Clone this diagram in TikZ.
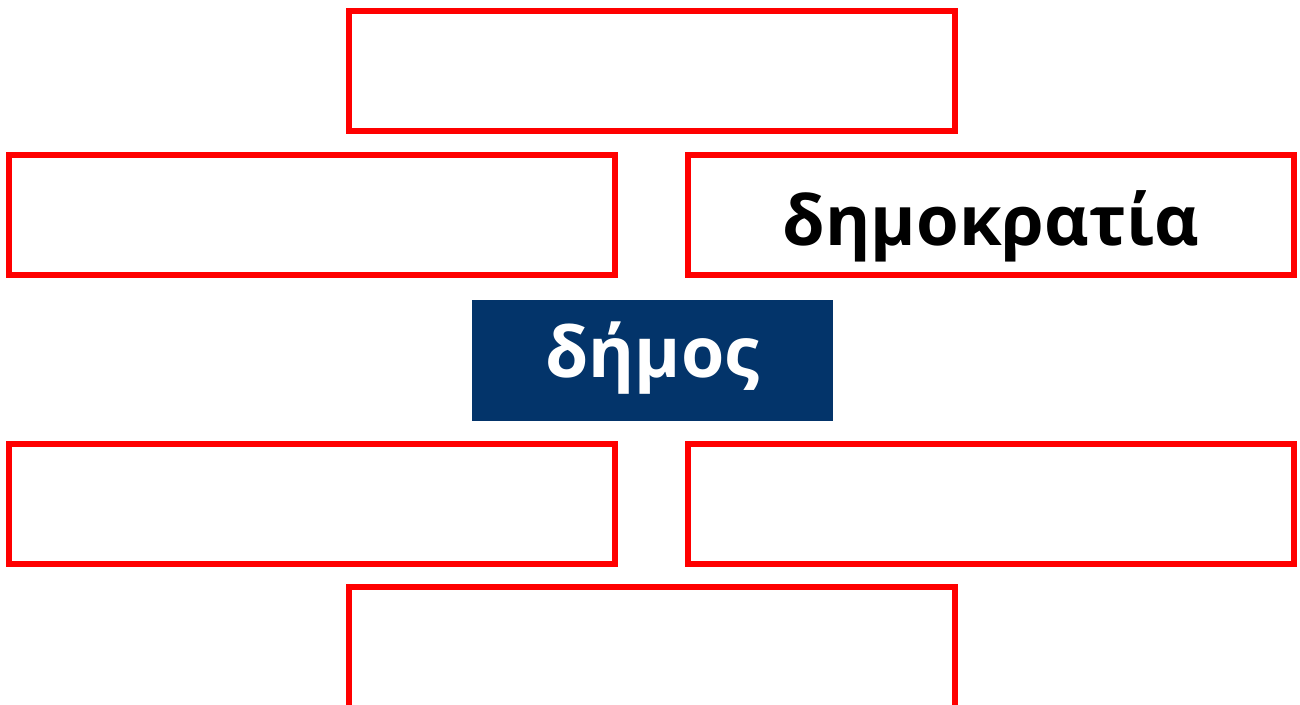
\documentclass[tikz,border=0pt]{standalone}
\usepackage{fontspec}
\setmainfont{Open Sans}
\definecolor{boxred}{HTML}{FF0000}
\definecolor{darkblue}{HTML}{03346A}
\begin{document}
\begin{tikzpicture}[x=1pt,y=-1pt,
  redbox/.style={draw=boxred,line width=6pt,inner sep=0pt,outer sep=0pt,
    minimum width=606pt,minimum height=120pt,anchor=center},
  bluebox/.style={fill=darkblue,inner sep=0pt,outer sep=0pt,
    minimum width=361pt,minimum height=121pt,anchor=center},
  label text/.style={inner sep=0pt,anchor=base}]
\useasboundingbox (0,0) rectangle (1300,704);
\node[redbox] (top) at (652,71) {};
\node[redbox] (ml) at (312,215) {};
\node[redbox] (mr) at (991,215) {};
\node[label text,font=\fontsize{69}{72}\bfseries\selectfont] (mrtext) at (991,245) {δημοκρατία};
\node[bluebox] (c) at (652.5,360.5) {};
\node[label text,text=white,font=\fontsize{70}{72}\bfseries\selectfont] (ctext) at (652.5,377) {δήμος};
\node[redbox] (bl) at (312,504) {};
\node[redbox] (br) at (991,504) {};
\node[redbox,minimum height=160pt] (bot) at (652,667) {};
\end{tikzpicture}
\end{document}
